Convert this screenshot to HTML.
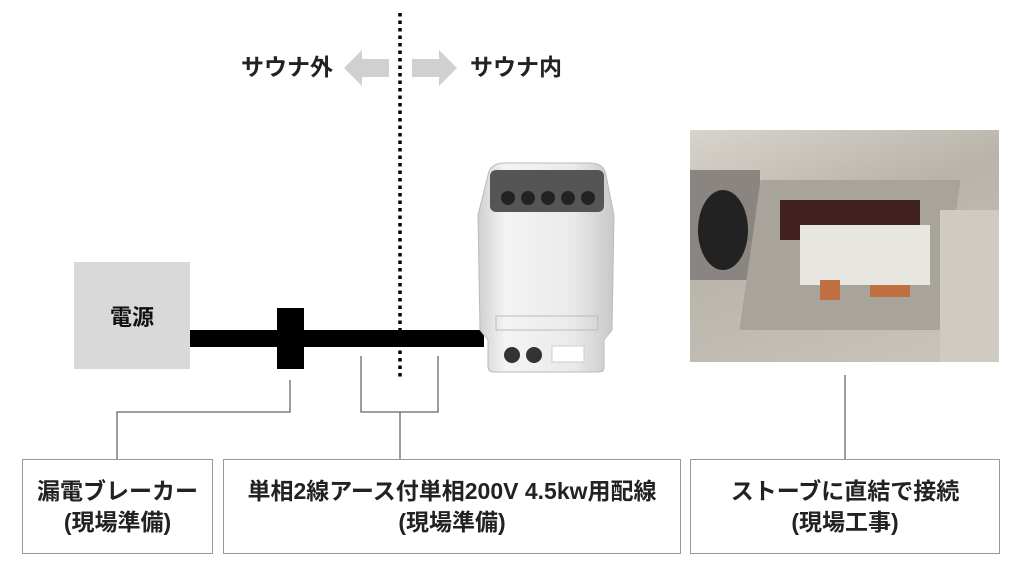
<!DOCTYPE html>
<html><head><meta charset="utf-8"><style>
body{margin:0;width:1024px;height:576px;background:#fff;position:relative;overflow:hidden;font-family:"Liberation Sans","Noto Sans CJK JP",sans-serif;font-weight:bold;color:#222}
.a{position:absolute}
.box{position:absolute;border:1px solid #999;background:#fff;display:flex;align-items:center;justify-content:center;text-align:center;font-size:23px;line-height:31px;white-space:nowrap}
</style></head><body>
<div class="a" style="left:74px;top:262px;width:116px;height:107px;background:#d9d9d9;display:flex;align-items:center;justify-content:center;font-size:22px;color:#111">電源</div>
<div class="a" style="left:190px;top:330px;width:294px;height:17px;background:#000"></div>
<div class="a" style="left:277px;top:308px;width:27px;height:61px;background:#000"></div>
<svg class="a" style="left:0;top:0" width="1024" height="576">
<line x1="400" y1="13" x2="400" y2="380" stroke="#000" stroke-width="3.5" stroke-dasharray="3.5,4"/>
<g fill="none" stroke="#666" stroke-width="1.3">
<polyline points="361,356 361,412 438,412 438,356"/>
<line x1="400" y1="412" x2="400" y2="459"/>
<polyline points="290,380 290,412 117,412 117,459"/>
<line x1="845" y1="375" x2="845" y2="459"/>
</g>
<polygon points="344,68 362,50 362,59 389,59 389,77 362,77 362,86" fill="#d0d0d0"/>
<polygon points="457,68 439,50 439,59 412,59 412,77 439,77 439,86" fill="#d0d0d0"/>
<defs><linearGradient id="g" x1="0" x2="1"><stop offset="0" stop-color="#cfcfcf"/><stop offset=".2" stop-color="#f4f4f4"/><stop offset=".7" stop-color="#eaeaea"/><stop offset="1" stop-color="#c8c8c8"/></linearGradient></defs>
<path d="M488,175 Q490,163 505,163 L590,163 Q604,163 606,175 L614,215 L612,330 L604,340 L604,368 Q604,372 598,372 L494,372 Q488,372 488,366 L488,340 L480,330 L478,215 Z" fill="url(#g)" stroke="#bbb"/>
<rect x="490" y="170" width="114" height="42" rx="6" fill="#555"/>
<g fill="#222"><circle cx="508" cy="198" r="7"/><circle cx="528" cy="198" r="7"/><circle cx="548" cy="198" r="7"/><circle cx="568" cy="198" r="7"/><circle cx="588" cy="198" r="7"/></g>
<rect x="496" y="316" width="102" height="14" fill="none" stroke="#bbb"/>
<circle cx="512" cy="355" r="8" fill="#333"/><circle cx="534" cy="355" r="8" fill="#333"/>
<rect x="552" y="346" width="32" height="16" fill="#fff" stroke="#ccc"/>
</svg>
<div class="a" style="left:690px;top:130px;width:309px;height:232px;background:linear-gradient(160deg,#d8d4cc,#b9b4aa 40%,#c9c5bd);overflow:hidden">
<div class="a" style="left:0;top:40px;width:70px;height:110px;background:#8a8580"></div>
<div class="a" style="left:8px;top:60px;width:50px;height:80px;border-radius:50%;background:#222"></div>
<div class="a" style="left:60px;top:50px;width:200px;height:150px;background:#a8a49c;transform:skewX(-8deg)"></div>
<div class="a" style="left:90px;top:70px;width:140px;height:40px;background:#402020"></div>
<div class="a" style="left:110px;top:95px;width:130px;height:60px;background:#e8e6e0"></div>
<div class="a" style="left:130px;top:150px;width:20px;height:20px;background:#c07040"></div>
<div class="a" style="left:180px;top:155px;width:40px;height:12px;background:#c07040"></div>
<div class="a" style="left:250px;top:80px;width:59px;height:152px;background:#cfcac2"></div>
</div>
<div class="a" style="left:180px;top:52px;width:153px;text-align:right;font-size:23px;line-height:30px">サウナ外</div>
<div class="a" style="left:470px;top:52px;font-size:23px;line-height:30px">サウナ内</div>
<div class="box" style="left:22px;top:459px;width:189px;height:93px">漏電ブレーカー<br>(現場準備)</div>
<div class="box" style="left:223px;top:459px;width:456px;height:93px">単相2線アース付単相200V 4.5kw用配線<br>(現場準備)</div>
<div class="box" style="left:690px;top:459px;width:308px;height:93px">ストーブに直結で接続<br>(現場工事)</div>
</body></html>
